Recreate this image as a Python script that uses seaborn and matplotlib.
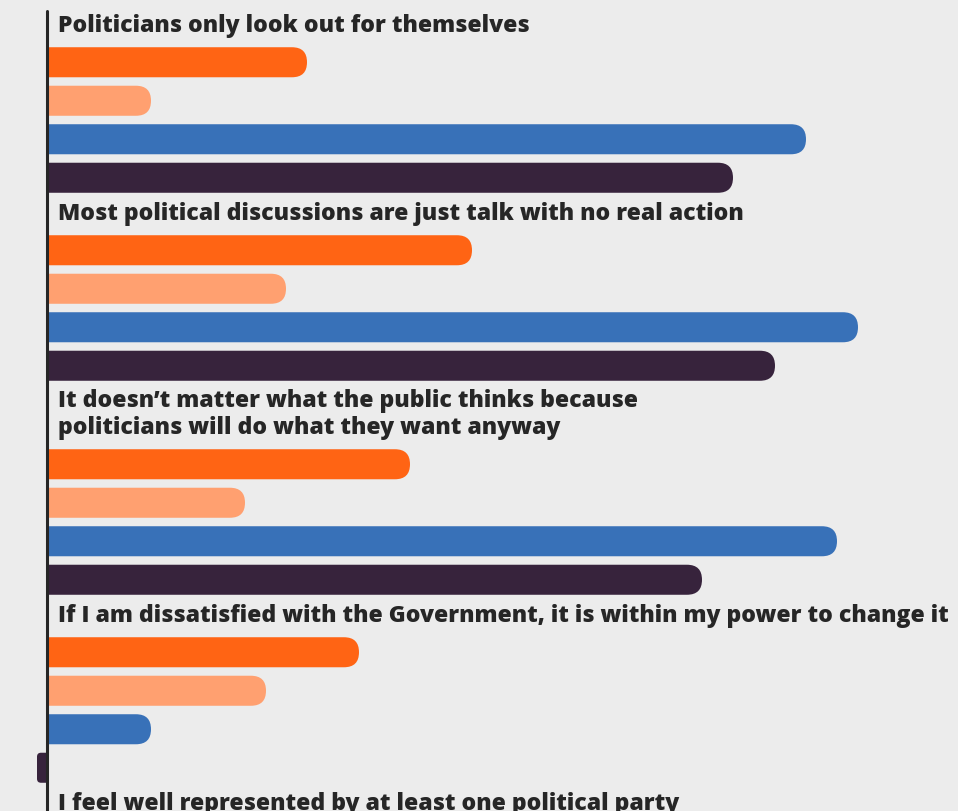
import numpy as np
import pandas as pd
import seaborn as sns
import matplotlib.pyplot as plt
from matplotlib.patches import FancyBboxPatch, Rectangle
from matplotlib.lines import Line2D

# statements (the last one is only partly visible at the bottom of the picture)
statements = [
    'Politicians only look out for themselves',
    'Most political discussions are just talk with no real action',
    'It doesn\u2019t matter what the public thinks because\npoliticians will do what they want anyway',
    'If I am dissatisfied with the Government, it is within my power to change it',
    'I feel well represented by at least one political party',
]
series = ['A', 'B', 'C', 'D']
colors = ['#ff6414', '#ffa070', '#3871b8', '#37233c']

# in %
vals_a = [26.0, 42.5, 36.3, 31.2]
vals_b = [10.4, 23.9, 19.8, 21.9]
vals_c = [75.9, 81.1, 79.0, 10.4]
vals_d = [68.6, 72.8, 65.5, -1.0]

rows = []
for s, vals in zip(series, [vals_a, vals_b, vals_c, vals_d]):
    for st, v in zip(statements[:4], vals):
        rows.append({'statement': st, 'series': s, 'value': v})
df = pd.DataFrame(rows)

sns.set_theme(style='white')
plt.rcParams['font.family'] = ['Open Sans', 'DejaVu Sans']

W, H = 958, 812
fig = plt.figure(figsize=(W / 100, H / 100), dpi=100)
fig.patch.set_facecolor('#ececec')

# layout in pixels
xmin, xmax = -4.7, 91.1
px_x = W / (xmax - xmin)
block = 154.0      # 4 bar slots
step = 188.0       # block + gap + one label line
line_px = 26.0     # extra per extra label line
first_top = 44.0

tops = []
y = first_top
for i, st in enumerate(statements):
    if i > 0:
        y += step + (st.count('\n')) * line_px
    tops.append(y)


def round_bars(ax, px_y):
    aspect = px_x / px_y
    for bar in list(ax.patches):
        x, yb, w, h = bar.get_x(), bar.get_y(), bar.get_width(), bar.get_height()
        left, right = min(x, x + w), max(x, x + w)
        r_px = min(h * px_y / 2, (right - left) * px_x / 2.5)
        rx = r_px / px_x
        if w >= 0:
            box = FancyBboxPatch((left - rx, yb), right - left + rx, h,
                                 boxstyle=f'round,pad=0,rounding_size={rx}',
                                 mutation_aspect=aspect,
                                 fc=bar.get_facecolor(), ec='none', zorder=2)
            clip = Rectangle((0, -5), 500, 10, transform=ax.transData)
        else:
            box = FancyBboxPatch((left, yb), right - left + rx, h,
                                 boxstyle=f'round,pad=0,rounding_size={rx}',
                                 mutation_aspect=aspect,
                                 fc=bar.get_facecolor(), ec='none', zorder=2)
            clip = Rectangle((-500, -5), 500, 10, transform=ax.transData)
        ax.add_patch(box)
        box.set_clip_path(clip)
        bar.remove()


for i, st in enumerate(statements):
    top = tops[i]
    fig.text(58 / W, 1 - (top - 6) / H, st, fontsize=16.6, fontweight='heavy',
             color='#262626', va='bottom', ha='left', linespacing=1.15)
    sub = df[df['statement'] == st]
    if len(sub) == 0:
        continue
    ax = fig.add_axes([0, 1 - (top + block) / H, 1, block / H])
    ax.set_facecolor('none')
    sns.barplot(data=sub, x='value', y='statement', hue='series',
                hue_order=series, palette=colors, saturation=1,
                orient='h', width=1.0, gap=0.22, legend=False, ax=ax)
    ax.set_xlim(xmin, xmax)
    ax.set_ylim(0.5, -0.5)
    ax.set_axis_off()
    round_bars(ax, block)

fig.add_artist(Line2D([47 / W, 47 / W], [0, 1 - 12 / H], color='#262626',
                      lw=2.2, zorder=10))

fig.savefig('out.png', dpi=100, facecolor=fig.get_facecolor())
